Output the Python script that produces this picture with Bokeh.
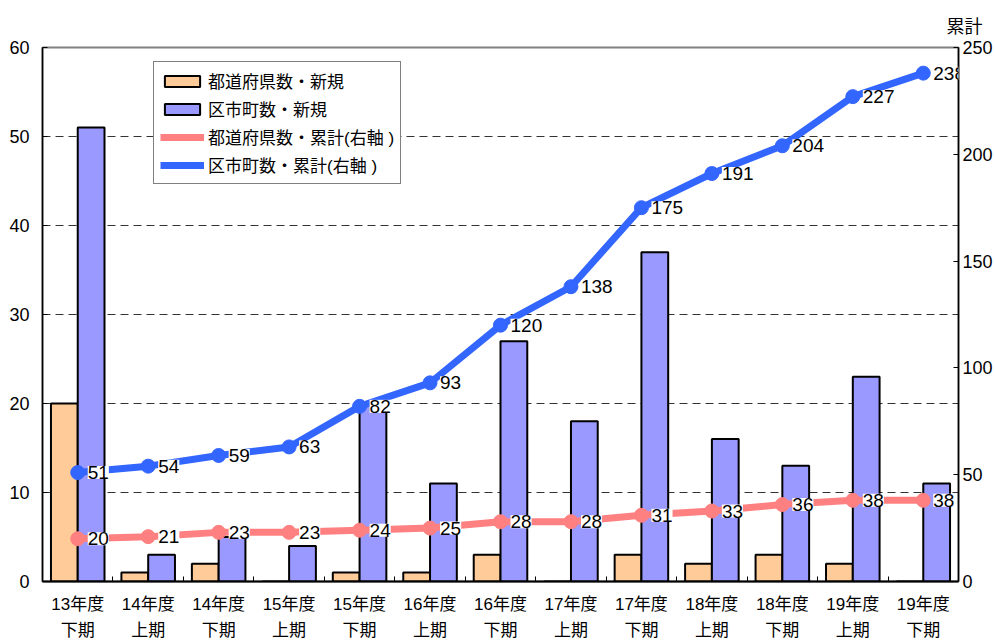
from bokeh.plotting import figure
from bokeh.models import (Range1d, LinearAxis, FixedTicker, ColumnDataSource,
                          LabelSet, Legend, LegendItem, Title)
from bokeh.transform import dodge
from bokeh.core.properties import value
from bokeh.embed import file_html
from bokeh.resources import INLINE

categories = ["13年度\n下期", "14年度\n上期", "14年度\n下期", "15年度\n上期",
              "15年度\n下期", "16年度\n上期", "16年度\n下期", "17年度\n上期",
              "17年度\n下期", "18年度\n上期", "18年度\n下期", "19年度\n上期",
              "19年度\n下期"]
pref_new = [20, 1, 2, 0, 1, 1, 3, 0, 3, 2, 3, 2, 0]
muni_new = [51, 3, 5, 4, 20, 11, 27, 18, 37, 16, 13, 23, 11]
pref_cum = [20, 21, 23, 23, 24, 25, 28, 28, 31, 33, 36, 38, 38]
muni_cum = [51, 54, 59, 63, 82, 93, 120, 138, 175, 191, 204, 227, 238]
left_ticks = [0, 10, 20, 30, 40, 50, 60]
right_ticks = [0, 50, 100, 150, 200, 250]
series_names = ["都道府県数・新規", "区市町数・新規",
                "都道府県数・累計(右軸 )", "区市町数・累計(右軸 )"]
right_title = "累計"

FONT = "Liberation Sans, Noto Sans CJK JP"
ORANGE = "#FFCC99"
PURPLE = "#9999FF"
PINK = "#FF8080"
BLUE = "#3366FF"

n = len(categories)
centers = [i + 0.5 for i in range(n)]
bounds = [i for i in range(1, n)]

src = ColumnDataSource(dict(
    x=centers, pref_new=pref_new, muni_new=muni_new,
    pref_cum=pref_cum, muni_cum=muni_cum,
    pref_lbl=[str(v) for v in pref_cum], muni_lbl=[str(v) for v in muni_cum],
))

p = figure(width=995, height=643, output_backend="svg", toolbar_location=None,
           x_range=Range1d(0, n), y_range=Range1d(0, 60),
           min_border_left=42, min_border_right=37, min_border_top=47,
           min_border_bottom=61)
p.extra_y_ranges = {"cum": Range1d(0, 250)}
p.background_fill_color = "white"
p.border_fill_color = "white"
p.outline_line_color = "#808080"
p.outline_line_width = 2

# axes
p.xaxis.ticker = FixedTicker(ticks=centers, minor_ticks=bounds)
p.xaxis.major_label_overrides = {c: lab for c, lab in zip(centers, categories)}
p.xaxis.major_tick_in = 0
p.xaxis.major_tick_out = 0
p.xaxis.minor_tick_in = 5
p.xaxis.minor_tick_out = 0
p.xaxis.minor_tick_line_color = "black"
p.xaxis.axis_line_color = "black"
p.xaxis.axis_line_width = 2
p.xaxis.major_label_text_font = FONT
p.xaxis.major_label_text_font_size = "17px"
p.xaxis.major_label_text_color = "black"
p.xaxis.major_label_text_line_height = 1.4
p.xaxis.major_label_standoff = 13

p.yaxis.ticker = FixedTicker(ticks=left_ticks)
p.yaxis.major_tick_in = 5
p.yaxis.major_tick_out = 0
p.yaxis.minor_tick_line_color = None
p.yaxis.axis_line_color = "black"
p.yaxis.axis_line_width = 1.5
p.yaxis.major_label_text_font = FONT
p.yaxis.major_label_text_font_size = "18px"
p.yaxis.major_label_text_color = "black"
p.yaxis.major_label_standoff = 13

raxis = LinearAxis(y_range_name="cum", ticker=FixedTicker(ticks=right_ticks))
raxis.major_tick_in = 5
raxis.major_tick_out = 0
raxis.minor_tick_line_color = None
raxis.axis_line_color = "black"
raxis.axis_line_width = 1.5
raxis.major_label_text_font = FONT
raxis.major_label_text_font_size = "18px"
raxis.major_label_text_color = "black"
raxis.major_label_standoff = 4
p.add_layout(raxis, "right")

p.xgrid.grid_line_color = None
p.ygrid.ticker = FixedTicker(ticks=left_ticks)
p.ygrid.grid_line_color = "#333333"
p.ygrid.grid_line_dash = "8 5"
p.ygrid.grid_line_width = 1

# bars
b1 = p.vbar(x=dodge("x", -0.19), top="pref_new", width=0.38, source=src,
            fill_color=ORANGE, line_color="black", line_width=2)
b2 = p.vbar(x=dodge("x", 0.19), top="muni_new", width=0.38, source=src,
            fill_color=PURPLE, line_color="black", line_width=2)

# lines
l1 = p.line("x", "pref_cum", source=src, y_range_name="cum",
            line_color=PINK, line_width=7)
s1 = p.scatter("x", "pref_cum", source=src, y_range_name="cum", size=14,
               fill_color=PINK, line_color=PINK)
l2 = p.line("x", "muni_cum", source=src, y_range_name="cum",
            line_color=BLUE, line_width=7)
s2 = p.scatter("x", "muni_cum", source=src, y_range_name="cum", size=14,
               fill_color=BLUE, line_color=BLUE)

for col in ("pref_cum", "muni_cum"):
    lbl = LabelSet(x="x", y=col, text=col.replace("cum", "lbl"), source=src,
                   y_range_name="cum", x_offset=10, y_offset=0,
                   text_baseline="middle", text_align="left",
                   text_font=value(FONT), text_font_size="19px",
                   text_color="black", background_fill_color="white")
    p.add_layout(lbl)

legend = Legend(items=[
    LegendItem(label=series_names[0], renderers=[b1]),
    LegendItem(label=series_names[1], renderers=[b2]),
    LegendItem(label=series_names[2], renderers=[l1, s1]),
    LegendItem(label=series_names[3], renderers=[l2, s2]),
], location=(111, 397))
legend.label_text_font = FONT
legend.label_text_font_size = "17px"
legend.label_text_color = "black"
legend.glyph_width = 44
legend.glyph_height = 14
legend.label_height = 22
legend.label_standoff = 4
legend.spacing = 3
legend.padding = 6
legend.margin = 0
legend.border_line_color = "black"
legend.border_line_width = 1
legend.background_fill_color = "white"
legend.background_fill_alpha = 1
p.add_layout(legend)

p.add_layout(Title(text=right_title, align="right", offset=-24, standoff=22,
                   text_font=FONT, text_font_size="18px",
                   text_font_style="normal", text_color="black"), "above")

open("out.html", "w").write(file_html(p, INLINE))
